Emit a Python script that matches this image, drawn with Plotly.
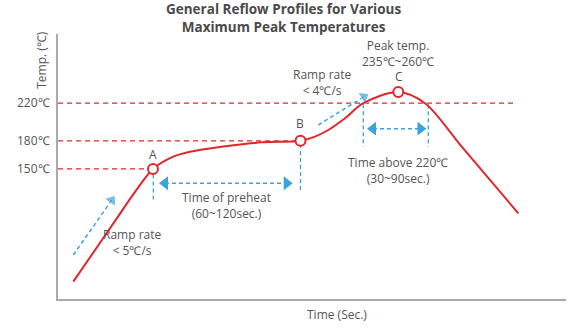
import plotly.graph_objects as go

# ---- data (time in arbitrary units) ----
profile_time = [15.3, 60, 73.7, 95, 115.3, 132, 198.7, 242.5, 257, 270.3, 287, 305.3, 340.3, 367, 403.7, 460.3]
profile_temp = [30.0, 99.2, 120.5, 150, 163.1, 168.4, 178.0, 180, 184.5, 191.5, 204.0, 220, 231.9, 220, 173.7, 102.8]

key_names = ["A", "B", "C"]
key_time = [95, 242.5, 340.3]
key_temp = [150, 180, 231.9]

level_temps = [150, 180, 220]
level_ends = [95, 242.5, 457]
tick_vals = [150, 180, 220]
tick_text = ["150℃", "180℃", "220℃"]

# blue dashed guide arrows (start, head)
ramp1_time = [15.3, 53.7]
ramp1_temp = [58.4, 116.8]
ramp2_time = [260.3, 306]
ramp2_temp = [196.8, 226.9]
preheat_time = [107, 228.7]
preheat_temp = [134.8, 134.8]
above_time = [315, 362.5]
above_temp = [192.9, 192.9]

# vertical blue dashed markers (time, top temp, bottom temp)
vline_time = [95.3, 242.5, 305.3, 370.3]
vline_top = [144.0, 176.6, 219.0, 219.0]
vline_bot = [114.8, 125.8, 173.7, 173.7]

RED = "#e3262b"
BLUE = "#3ba3d9"
GRAY = "#555555"
FONT = "Open Sans"

fig = go.Figure()

# red dashed level lines
for t, e in zip(level_temps, level_ends):
    fig.add_trace(go.Scatter(x=[0, e], y=[t, t], mode="lines",
                             line=dict(color=RED, width=1.2, dash="5px,4px"),
                             hoverinfo="skip", showlegend=False))

# blue vertical dashed markers
for t, a, b in zip(vline_time, vline_top, vline_bot):
    fig.add_trace(go.Scatter(x=[t, t], y=[a, b], mode="lines",
                             line=dict(color=BLUE, width=1.3, dash="4px,3px"),
                             hoverinfo="skip", showlegend=False))

# single arrows
for xs, ys in [(ramp1_time, ramp1_temp), (ramp2_time, ramp2_temp)]:
    fig.add_trace(go.Scatter(x=xs, y=ys, mode="lines+markers",
                             line=dict(color=BLUE, width=1.5, dash="4px,3px"),
                             marker=dict(symbol="triangle-up", size=[0, 12], color=BLUE,
                                         angleref="previous"),
                             hoverinfo="skip", showlegend=False))

# double arrows
for xs, ys in [(preheat_time, preheat_temp), (above_time, above_temp)]:
    fig.add_trace(go.Scatter(x=xs, y=ys, mode="lines+markers",
                             line=dict(color=BLUE, width=1.5, dash="4px,3px"),
                             marker=dict(symbol=["triangle-left", "triangle-right"], size=12,
                                         color=BLUE),
                             hoverinfo="skip", showlegend=False))

# reflow profile curve
fig.add_trace(go.Scatter(x=profile_time, y=profile_temp, mode="lines",
                         line=dict(color=RED, width=2, shape="spline", smoothing=0.9),
                         hoverinfo="skip", showlegend=False))

# key points
fig.add_trace(go.Scatter(x=key_time, y=key_temp, mode="markers",
                         marker=dict(symbol="circle", size=10, color="white",
                                     line=dict(color=RED, width=2)),
                         hoverinfo="skip", showlegend=False))

# labels
label_font = dict(family=FONT, size=12, color=GRAY)
ann = [
    ("A", 95, 164.9),
    ("B", 242, 197.9),
    ("C", 341, 248.0),
    ("Peak temp.<br>235℃~260℃", 340.3, 273.0),
    ("Ramp rate<br>&lt; 4℃/s", 263.7, 242.1),
    ("Ramp rate<br>&lt; 5℃/s", 73.7, 71.7),
    ("Time of preheat<br>(60~120sec.)", 168.7, 111.1),
    ("Time above 220℃<br>(30~90sec.)", 340.3, 148.9),
]
for txt, x, y in ann:
    fig.add_annotation(x=x, y=y, text=txt, showarrow=False, font=label_font,
                       xanchor="center", yanchor="middle")

fig.add_annotation(xref="paper", x=-0.034, y=266, text="Temp. (℃)", textangle=-90,
                   showarrow=False, font=label_font, xanchor="center", yanchor="middle")
fig.add_annotation(x=279, yref="paper", y=-0.06, text="Time (Sec.)", showarrow=False,
                   font=label_font, xanchor="center", yanchor="middle")

# chart title (two lines, bold)
fig.add_annotation(xref="paper", x=0.443, yref="paper", y=1.136, yanchor="top",
                   xanchor="center", showarrow=False,
                   text="<b>General Reflow Profiles for Various<br>Maximum Peak Temperatures</b>",
                   font=dict(family=FONT, size=13.5, color="#4a4a4a"))

fig.update_layout(
    width=575, height=330,
    margin=dict(l=58, r=9, t=34, b=31),
    paper_bgcolor="white", plot_bgcolor="white",
    xaxis=dict(range=[0, 508], showgrid=False, zeroline=False, showticklabels=False,
               showline=True, linecolor="#aaaaaa", linewidth=2, ticks=""),
    yaxis=dict(range=[11.56, 293.7], showgrid=False, zeroline=False,
               tickvals=tick_vals, ticktext=tick_text, ticks="", ticklabelstandoff=4,
               tickfont=dict(family=FONT, size=12, color=GRAY),
               showline=True, linecolor="#aaaaaa", linewidth=2),
)

fig.write_html("out.html")
